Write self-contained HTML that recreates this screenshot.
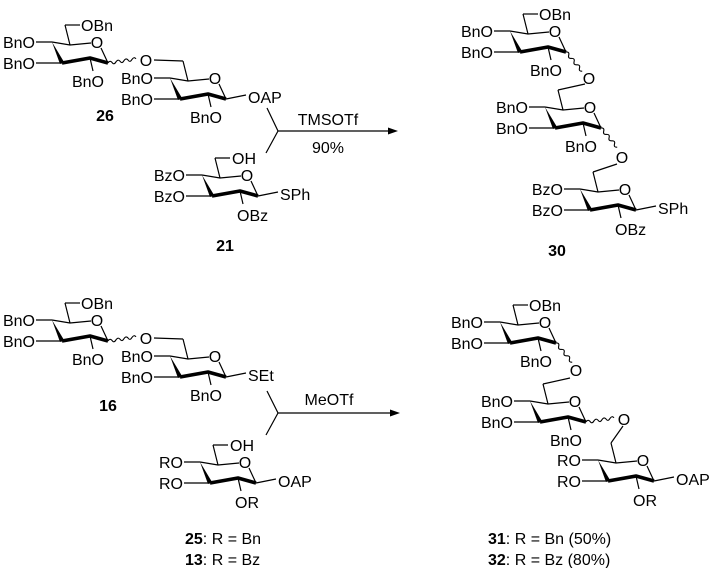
<!DOCTYPE html>
<html><head><meta charset="utf-8"><style>
html,body{margin:0;padding:0;background:#fff;}
svg{display:block;}
text{font-family:"Liberation Sans",Arial,sans-serif;font-size:16px;fill:#000;}
.b{font-weight:bold;}
</style></head><body>
<svg width="719" height="568" viewBox="0 0 719 568" xmlns="http://www.w3.org/2000/svg">
<defs>
<g id="ring">
<path d="M0,0L18,3L39,1 M49,6L56,21 M18,3L13,-17 M0,0L-16,0 M10,21L-16,21 M38,16L41,29" fill="none" stroke="#000" stroke-width="1.2"/>
<path d="M56,21L38,16L10,21" fill="none" stroke="#000" stroke-width="3.6" stroke-linejoin="round"/>
<polygon points="0,0 8,22 12,20" fill="#000"/>
<text x="45" y="6" text-anchor="middle">O</text>
</g>
<path id="wavyH" d="M56,21 q2,-3 4,-0.6 q2,3 4,-0.6 q2,-3 4,-0.6 q2,3 4,-0.6 q2,-3 4,-0.6 q2,3 4,-0.6 q2,-3 4,-0.6" fill="none" stroke="#000" stroke-width="1.1"/>
<path id="wavyD" d="M56,21 q3.65,-0.3 2.7,3.2 q-0.95,3.5 2.7,3.2 q3.65,-0.3 2.7,3.2 q-0.95,3.5 2.7,3.2 q3.65,-0.3 2.7,3.2 q-0.95,3.5 2.7,3.2" fill="none" stroke="#000" stroke-width="1.1"/>
</defs>
<g stroke="#000" stroke-width="1.2" fill="none">
</g>

<!-- A: 26 ring 1 -->
<g transform="translate(52,42)">
<use href="#ring"/>
<path d="M13,-17L28,-17" stroke="#000" stroke-width="1.2"/>
<text x="29" y="-11">OBn</text>
<text x="-17" y="6" text-anchor="end">BnO</text>
<text x="-17" y="27" text-anchor="end">BnO</text>
<text x="36" y="45" text-anchor="middle">BnO</text>
<use href="#wavyH"/>
<text x="94" y="24" text-anchor="middle">O</text>
</g>
<!-- B: 26 ring 2 -->
<g transform="translate(170,78)">
<use href="#ring"/>
<path d="M13,-17L-16,-18 M56,21L76,17" stroke="#000" stroke-width="1.2"/>
<text x="-17" y="6" text-anchor="end">BnO</text>
<text x="-17" y="27" text-anchor="end">BnO</text>
<text x="36" y="45" text-anchor="middle">BnO</text>
<text x="78" y="25">OAP</text>
</g>
<text x="105" y="121" class="b" text-anchor="middle">26</text>
<!-- C: 21 -->
<g transform="translate(202,175)">
<use href="#ring"/>
<path d="M13,-17L28,-17 M56,21L76,17" stroke="#000" stroke-width="1.2"/>
<text x="30" y="-11">OH</text>
<text x="-17" y="6" text-anchor="end">BzO</text>
<text x="-17" y="27" text-anchor="end">BzO</text>
<text x="35" y="46">OBz</text>
<text x="78" y="25">SPh</text>
</g>
<text x="225" y="251" class="b" text-anchor="middle">21</text>

<!-- top arrow -->
<path d="M267,108L278,131L266,153 M278,131L390,131" stroke="#000" stroke-width="1.2" fill="none"/>
<polygon points="398,131 388,127.5 388,134.5" fill="#000"/>
<text x="328" y="125" text-anchor="middle">TMSOTf</text>
<text x="328" y="153" text-anchor="middle">90%</text>

<!-- 30 -->
<g transform="translate(510,31)">
<use href="#ring"/>
<path d="M13,-17L28,-17" stroke="#000" stroke-width="1.2"/>
<text x="29" y="-11">OBn</text>
<text x="-17" y="6" text-anchor="end">BnO</text>
<text x="-17" y="27" text-anchor="end">BnO</text>
<text x="36" y="45" text-anchor="middle">BnO</text>
<use href="#wavyD"/>
<text x="79" y="53" text-anchor="middle">O</text>
</g>
<g transform="translate(545,107)">
<use href="#ring"/>
<path d="M13,-17L40,-23" stroke="#000" stroke-width="1.2"/>
<text x="-17" y="6" text-anchor="end">BnO</text>
<text x="-17" y="27" text-anchor="end">BnO</text>
<text x="36" y="45" text-anchor="middle">BnO</text>
<use href="#wavyD"/>
<text x="77" y="56" text-anchor="middle">O</text>
</g>
<g transform="translate(580,189)">
<use href="#ring"/>
<path d="M13,-17L37,-25 M56,21L76,17" stroke="#000" stroke-width="1.2"/>
<text x="-17" y="6" text-anchor="end">BzO</text>
<text x="-17" y="27" text-anchor="end">BzO</text>
<text x="35" y="46">OBz</text>
<text x="78" y="25">SPh</text>
</g>
<text x="557" y="256" class="b" text-anchor="middle">30</text>

<!-- G: 16 ring 1 -->
<g transform="translate(52,320)">
<use href="#ring"/>
<path d="M13,-17L28,-17" stroke="#000" stroke-width="1.2"/>
<text x="29" y="-11">OBn</text>
<text x="-17" y="6" text-anchor="end">BnO</text>
<text x="-17" y="27" text-anchor="end">BnO</text>
<text x="36" y="45" text-anchor="middle">BnO</text>
<use href="#wavyH"/>
<text x="94" y="24" text-anchor="middle">O</text>
</g>
<g transform="translate(170,356)">
<use href="#ring"/>
<path d="M13,-17L-16,-18 M56,21L76,17" stroke="#000" stroke-width="1.2"/>
<text x="-17" y="6" text-anchor="end">BnO</text>
<text x="-17" y="27" text-anchor="end">BnO</text>
<text x="36" y="45" text-anchor="middle">BnO</text>
<text x="78" y="25">SEt</text>
</g>
<text x="108" y="411" class="b" text-anchor="middle">16</text>
<!-- I: 25/13 -->
<g transform="translate(200,462)">
<use href="#ring"/>
<path d="M13,-17L28,-17 M56,21L76,17" stroke="#000" stroke-width="1.2"/>
<text x="30" y="-11">OH</text>
<text x="-17" y="6" text-anchor="end">RO</text>
<text x="-17" y="27" text-anchor="end">RO</text>
<text x="35" y="46">OR</text>
<text x="78" y="25">OAP</text>
</g>
<text x="185" y="544"><tspan class="b">25</tspan>: R = Bn</text>
<text x="185" y="565"><tspan class="b">13</tspan>: R = Bz</text>

<!-- bottom arrow -->
<path d="M267,391L278,413L266,435 M278,413L392,413" stroke="#000" stroke-width="1.2" fill="none"/>
<polygon points="400,413 390,409.5 390,416.5" fill="#000"/>
<text x="329" y="405" text-anchor="middle">MeOTf</text>

<!-- 31/32 -->
<g transform="translate(500,322)">
<use href="#ring"/>
<path d="M13,-17L28,-17" stroke="#000" stroke-width="1.2"/>
<text x="29" y="-11">OBn</text>
<text x="-17" y="6" text-anchor="end">BnO</text>
<text x="-17" y="27" text-anchor="end">BnO</text>
<text x="36" y="45" text-anchor="middle">BnO</text>
<use href="#wavyD"/>
<text x="76" y="54" text-anchor="middle">O</text>
</g>
<g transform="translate(530,401)">
<use href="#ring"/>
<path d="M13,-17L40,-23" stroke="#000" stroke-width="1.2"/>
<text x="-17" y="6" text-anchor="end">BnO</text>
<text x="-17" y="27" text-anchor="end">BnO</text>
<text x="36" y="45" text-anchor="middle">BnO</text>
<use href="#wavyH"/>
<text x="94" y="24" text-anchor="middle">O</text>
</g>
<g transform="translate(598,460)">
<use href="#ring"/>
<path d="M13,-17L25,-34 M56,21L76,17" stroke="#000" stroke-width="1.2"/>
<text x="-17" y="6" text-anchor="end">RO</text>
<text x="-17" y="27" text-anchor="end">RO</text>
<text x="35" y="46">OR</text>
<text x="78" y="25">OAP</text>
</g>
<text x="488" y="544"><tspan class="b">31</tspan>: R = Bn (50%)</text>
<text x="488" y="565"><tspan class="b">32</tspan>: R = Bz (80%)</text>
</svg>
</body></html>
